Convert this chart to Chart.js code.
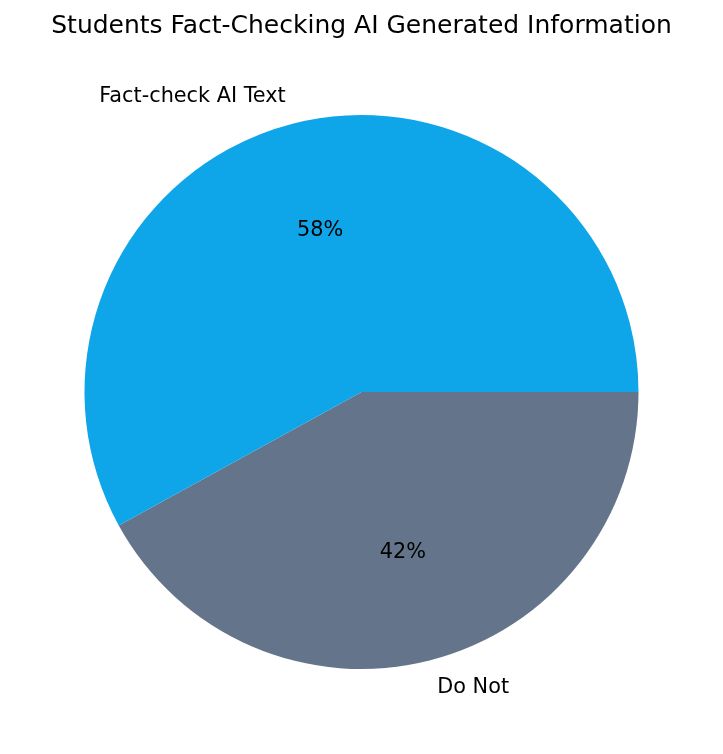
<!DOCTYPE html>
<html>
<head>
<meta charset="utf-8">
<script src="https://cdn.jsdelivr.net/npm/chart.js@4/dist/chart.umd.min.js"></script>
<style>
  html, body { margin: 0; padding: 0; background: #ffffff; }
  #wrap { width: 723px; height: 754px; }
</style>
</head>
<body>
<div id="wrap"><canvas id="c" width="723" height="754"></canvas></div>
<script>
const chartTitle = "Students Fact-Checking AI Generated Information";
const categories = ["Fact-check AI Text", "Do Not"];
const values = [58, 42];
const colors = ["#0EA5E9", "#64748B"];

// matplotlib draws counter-clockwise from 3 o'clock; Chart.js draws clockwise,
// so feed the slices in reverse order starting at 3 o'clock.
const order = categories.map((_, i) => categories.length - 1 - i);
const dsLabels = order.map(i => categories[i]);
const dsValues = order.map(i => values[i]);
const dsColors = order.map(i => colors[i]);

const pieLabels = {
  id: 'pieLabels',
  afterDatasetsDraw(chart) {
    const ctx = chart.ctx;
    const meta = chart.getDatasetMeta(0);
    const total = dsValues.reduce((a, b) => a + b, 0);
    ctx.save();
    ctx.fillStyle = '#000000';
    ctx.font = 'normal 20.8px DejaVu Sans, sans-serif';
    ctx.textBaseline = 'middle';
    meta.data.forEach((arc, i) => {
      const p = arc.getProps(['x', 'y', 'startAngle', 'endAngle', 'outerRadius'], true);
      const mid = (p.startAngle + p.endAngle) / 2;
      const c = Math.cos(mid), s = Math.sin(mid);
      const lx = p.x + c * p.outerRadius * 1.1;
      const ly = p.y + s * p.outerRadius * 1.1;
      ctx.textAlign = c < 0 ? 'right' : 'left';
      ctx.fillText(dsLabels[i], lx, ly);
      const px = p.x + c * p.outerRadius * 0.6;
      const py = p.y + s * p.outerRadius * 0.6;
      ctx.textAlign = 'center';
      ctx.fillText(Math.round(dsValues[i] / total * 100) + '%', px, py);
    });
    ctx.restore();
  }
};

new Chart(document.getElementById('c'), {
  type: 'pie',
  data: {
    labels: dsLabels,
    datasets: [{
      data: dsValues,
      backgroundColor: dsColors,
      borderWidth: 0,
      hoverOffset: 0
    }]
  },
  options: {
    responsive: false,
    animation: false,
    rotation: 90,
    layout: { padding: { left: 0, right: 0, top: 0, bottom: 85 } },
    plugins: {
      legend: { display: false },
      tooltip: { enabled: false },
      title: {
        display: true,
        text: chartTitle,
        color: '#000000',
        font: { family: 'DejaVu Sans', size: 25, weight: 'normal' },
        padding: { top: 11, bottom: 74 }
      }
    }
  },
  plugins: [pieLabels]
});
</script>
</body>
</html>
